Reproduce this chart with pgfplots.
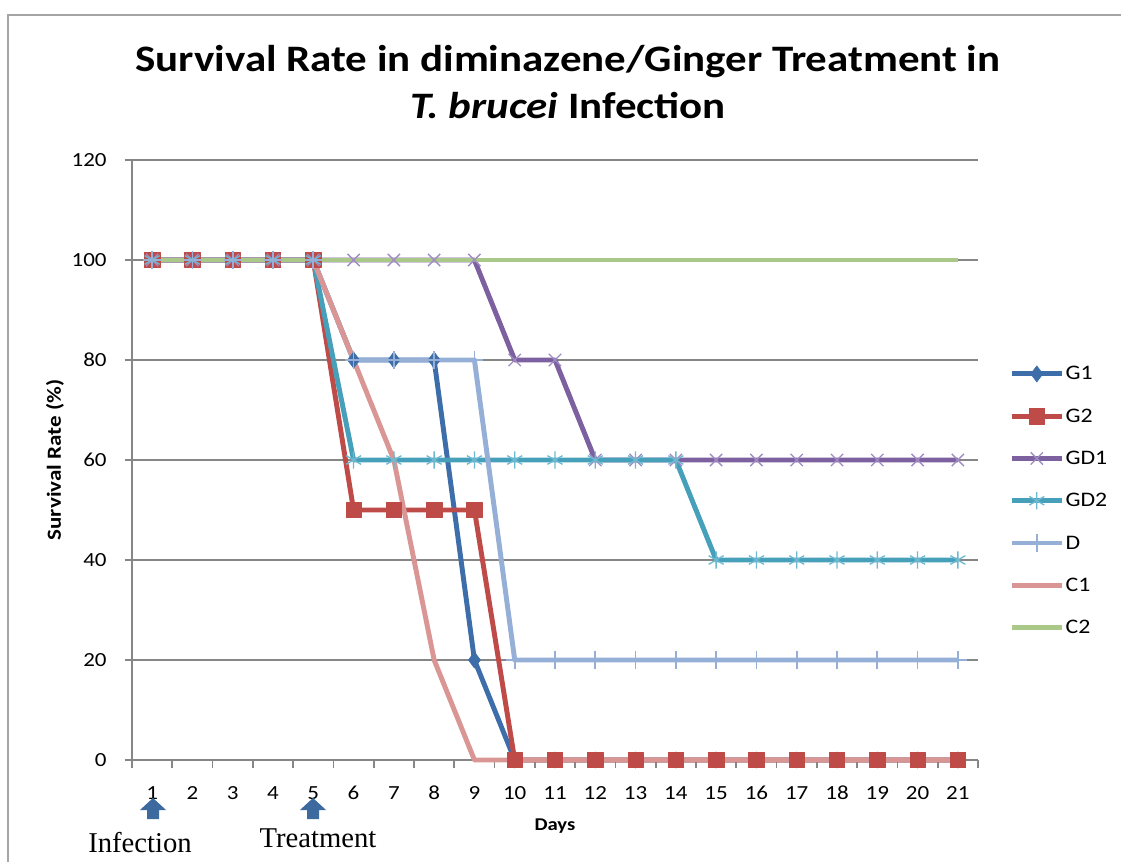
\documentclass[border=0pt]{standalone}
\usepackage{fontspec}
\setmainfont[FakeStretch=1.15]{Carlito}
\newfontfamily\serifann{Liberation Serif}
\usepackage{pgfplots}
\usepackage{pgfplotstable}
\pgfplotsset{compat=1.18}
\definecolor{cG1}{RGB}{61,110,170}
\definecolor{cG2}{RGB}{190,75,72}
\definecolor{cGD1}{RGB}{125,96,160}
\definecolor{cGD1m}{RGB}{160,140,195}
\definecolor{cGD2}{RGB}{70,160,185}
\definecolor{cGD2m}{RGB}{110,185,210}
\definecolor{cD}{RGB}{150,175,215}
\definecolor{cC1}{RGB}{218,150,148}
\definecolor{cC2}{RGB}{170,200,135}
\definecolor{gridc}{RGB}{134,134,134}
\definecolor{arrowblue}{RGB}{60,105,158}
\pgfplotstableread{
x G1 G2 GD1 GD2 D C1 C2
1 100 100 100 100 100 100 100
2 100 100 100 100 100 100 100
3 100 100 100 100 100 100 100
4 100 100 100 100 100 100 100
5 100 100 100 100 100 100 100
6 80 50 100 60 80 80 100
7 80 50 100 60 80 60 100
8 80 50 100 60 80 20 100
9 20 50 100 60 80 0 100
10 0 0 80 60 20 0 100
11 0 0 80 60 20 0 100
12 0 0 60 60 20 0 100
13 0 0 60 60 20 0 100
14 0 0 60 60 20 0 100
15 0 0 60 40 20 0 100
16 0 0 60 40 20 0 100
17 0 0 60 40 20 0 100
18 0 0 60 40 20 0 100
19 0 0 60 40 20 0 100
20 0 0 60 40 20 0 100
21 0 0 60 40 20 0 100
}\survival
\begin{document}
\begin{tikzpicture}[x=0.75pt,y=0.75pt]
\path[use as bounding box] (0,0) rectangle (1121,861);
\draw[color={rgb,255:red,165;green,165;blue,165}, line width=1.5pt] (8,-10) -- (8,846) -- (1135,846);
\node[anchor=base, font=\fontsize{28}{28}\selectfont\bfseries] at (568,789) {Survival Rate in diminazene/Ginger Treatment in};
\node[anchor=base, font=\fontsize{28}{28}\selectfont\bfseries] at (568,742) {\textit{T. brucei} Infection};
\begin{axis}[
  at={(99pt,75.75pt)}, anchor=south west,
  scale only axis, width=634.5pt, height=450pt,
  xmin=0.5, xmax=21.5, ymin=0, ymax=120,
  axis x line=bottom, axis y line=left,
  axis line style={-, draw=gridc, line width=1.2pt},
  xtick={1,...,21}, minor xtick={0.5,1.5,...,21.5},
  ytick={0,20,...,120},
  tick align=outside,
  major x tick style={draw=none},
  minor tick length=6pt, major tick length=5.5pt,
  tick style={draw=gridc, line width=1.2pt},
  ymajorgrids, grid style={draw=gridc, line width=1.2pt},
  /pgf/number format/assume math mode=true,
  ticklabel style={font=\fontsize{15}{15}\selectfont},
  xticklabel style={yshift=-10pt, text height=10.5pt, text depth=0pt},
  yticklabel style={xshift=-10pt},
  xlabel={Days}, ylabel={Survival Rate (\%)},
  every axis x label/.style={at={(axis description cs:0.5,-0.11)}, anchor=center, font=\fontsize{13.5}{13.5}\selectfont\bfseries},
  every axis y label/.style={at={(axis description cs:-0.091,0.5)}, anchor=center, rotate=90, font=\fontsize{15}{15}\selectfont\bfseries},
  clip=false,
  line join=round,
  legend cell align=left,
  legend image code/.code={\draw[mark repeat=2,mark phase=2] plot coordinates {(0pt,0pt) (18.75pt,0pt) (37.5pt,0pt)};},
  legend style={at={(rel axis cs:1.032,0.665)}, anchor=north west, draw=none, fill=none,
    font=\fontsize{15.5}{15.5}\selectfont, row sep=16.7pt,
    nodes={inner sep=1pt, text height=11pt, text depth=2pt}},
]
\addplot[cG1, line width=3.7pt, mark=diamond*, mark size=6pt, mark options={fill=cG1, draw=cG1, line width=0.5pt}] table[x=x, y=G1] {\survival};
\addlegendentry{G1}
\addplot[cG2, line width=3.7pt, mark=square*, mark size=5.8pt, mark options={fill=cG2, draw=cG2, line width=0.5pt}] table[x=x, y=G2] {\survival};
\addlegendentry{G2}
\addplot[cGD1, line width=3.7pt, mark=x, mark size=6.5pt, mark options={draw=cGD1m, line width=1pt}] table[x=x, y=GD1] {\survival};
\addlegendentry{GD1}
\addplot[cGD2, line width=3.7pt, mark=asterisk, mark size=6.5pt, mark options={draw=cGD2m, line width=1pt}] table[x=x, y=GD2] {\survival};
\addlegendentry{GD2}
\addplot[cD, line width=3.7pt, mark=+, mark size=6.5pt, mark options={draw=cD, line width=1.2pt}] table[x=x, y=D] {\survival};
\addlegendentry{D}
\addplot[cC1, line width=3.7pt] table[x=x, y=C1] {\survival};
\addlegendentry{C1}
\addplot[cC2, line width=3.7pt] table[x=x, y=C2] {\survival};
\addlegendentry{C2}
\end{axis}
\fill[arrowblue] (153,63) -- (166,51) -- (159,51) -- (159,42) -- (147,42) -- (147,51) -- (140,51) -- cycle;
\fill[arrowblue] (313,63) -- (326,51) -- (319,51) -- (319,42) -- (307,42) -- (307,51) -- (300,51) -- cycle;
\node[anchor=base, font=\serifann\fontsize{21.5}{21.5}\selectfont] at (140,9) {Infection};
\node[anchor=base, font=\serifann\fontsize{21.5}{21.5}\selectfont] at (318,14) {Treatment};
\end{tikzpicture}
\end{document}
